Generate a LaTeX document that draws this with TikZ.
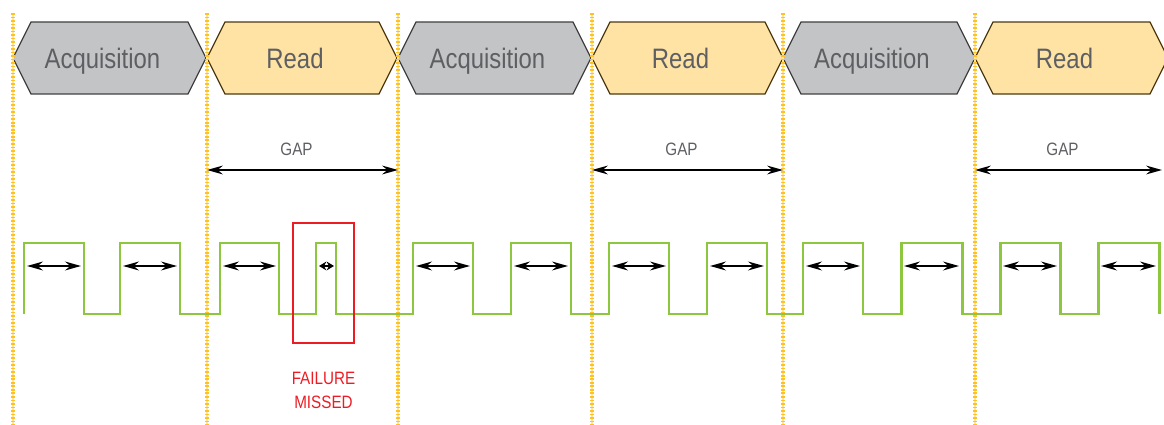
\documentclass[tikz,border=0pt]{standalone}
\usepackage{fontspec}
\setmainfont{Liberation Sans}[FakeStretch=0.85]
\usepackage{xcolor}
\usetikzlibrary{arrows.meta,positioning}

\definecolor{acqgray}{HTML}{C3C4C6}
\definecolor{readyel}{HTML}{FFE3A5}
\definecolor{readbrd}{HTML}{4D3A10}
\definecolor{lblgray}{HTML}{5E5F62}
\definecolor{tickorg}{HTML}{FFC222}
\definecolor{wavegrn}{HTML}{8DC63F}
\definecolor{failred}{HTML}{ED1C24}

\begin{document}
\begin{tikzpicture}[
    x=0.02cm, y=-0.02cm,
    acqbox/.style={draw=black!75, fill=acqgray, line width=0.7pt, line join=miter},
    readbox/.style={draw=readbrd, fill=readyel, line width=0.7pt, line join=miter},
    phase/.style={font=\fontsize{16}{18}\selectfont, text=lblgray, anchor=base, inner sep=0pt},
    marker/.style={draw=tickorg!45, line width=0.6pt},
    ticks/.style={draw=tickorg, line width=2pt, dash pattern=on 0.9pt off 1.1pt},
    wave/.style={draw=wavegrn, line width=1.7pt, line join=miter},
    dim/.style={{Stealth[length=9pt,width=5pt]}-{Stealth[length=9pt,width=5pt]}, line width=1.3pt},
    tinydim/.style={{Stealth[length=4.2pt,width=5pt]}-{Stealth[length=4.2pt,width=5pt]}, line width=1.3pt},
    gaplbl/.style={font=\fontsize{10.2}{12}\selectfont, text=lblgray, inner sep=0pt},
    missbox/.style={draw=failred, line width=1.5pt, minimum width=1.22cm, minimum height=2.4cm, inner sep=0pt},
    failtxt/.style={font=\fontsize{10.2}{13.6}\selectfont, text=failred, align=center, inner sep=0pt}
]
    \useasboundingbox (0,0) rectangle (1164,425);

    % Phase bar: acquisition / read cycles
    \foreach \l/\r/\kind/\txt [count=\i] in {13/206/acqbox/Acquisition, 207/397/readbox/Read,
        398/591/acqbox/Acquisition, 592/783/readbox/Read, 783/975/acqbox/Acquisition, 975/1168/readbox/Read} {
        \draw[\kind] (\l,58) -- (\l+18,22) -- (\r-18,22) -- (\r,58) -- (\r-18,94) -- (\l+18,94) -- cycle;
        \node[phase] (ph\i) at ({(\l+\r)/2-7},69) {\txt};
    }

    % Boundary markers
    \foreach \x [count=\i] in {13,207,398,592,783,975} {
        \coordinate (m\i) at (\x,170);
        \draw[marker] (\x,13) -- (\x,425);
        \draw[ticks] (\x,13) -- (\x,425);
    }
    \coordinate (m7) at (1162,170);

    % Gaps
    \foreach \a/\b [count=\i] in {2/3,4/5,6/7} {
        \draw[dim, line width=0.9pt] (m\a) -- node[gaplbl, above=0.28cm, xshift=-0.12cm] (gap\i) {GAP} (m\b);
    }

    % Signal
    \draw[wave] (24,314) foreach \a/\b in {24/84,120/180,220/279,316/336,413/473,511/571,
        609/669,707/767,803/863,901/962,1000/1060,1098/1159} { -- (\a,314) -- (\a,243) -- (\b,243) -- (\b,314) };

    % Pulse widths
    \foreach \a/\b [count=\i] in {24/84,120/180,220/279,413/473,511/571,
        609/669,707/767,803/863,901/962,1000/1060,1098/1159} {
        \coordinate (pl\i) at (\a+3,266);
        \coordinate (pr\i) at (\b-3,266);
        \draw[dim] (pl\i) -- (pr\i);
    }
    \coordinate (ml) at (319,266);
    \coordinate (mr) at (334,266);
    \draw[tinydim] (ml) -- (mr);

    % Missed pulse
    \node[missbox] (miss) at (323.5,283) {};
    \node[failtxt, below=0.55cm of miss] (fail) {FAILURE\\MISSED};

\end{tikzpicture}
\end{document}
